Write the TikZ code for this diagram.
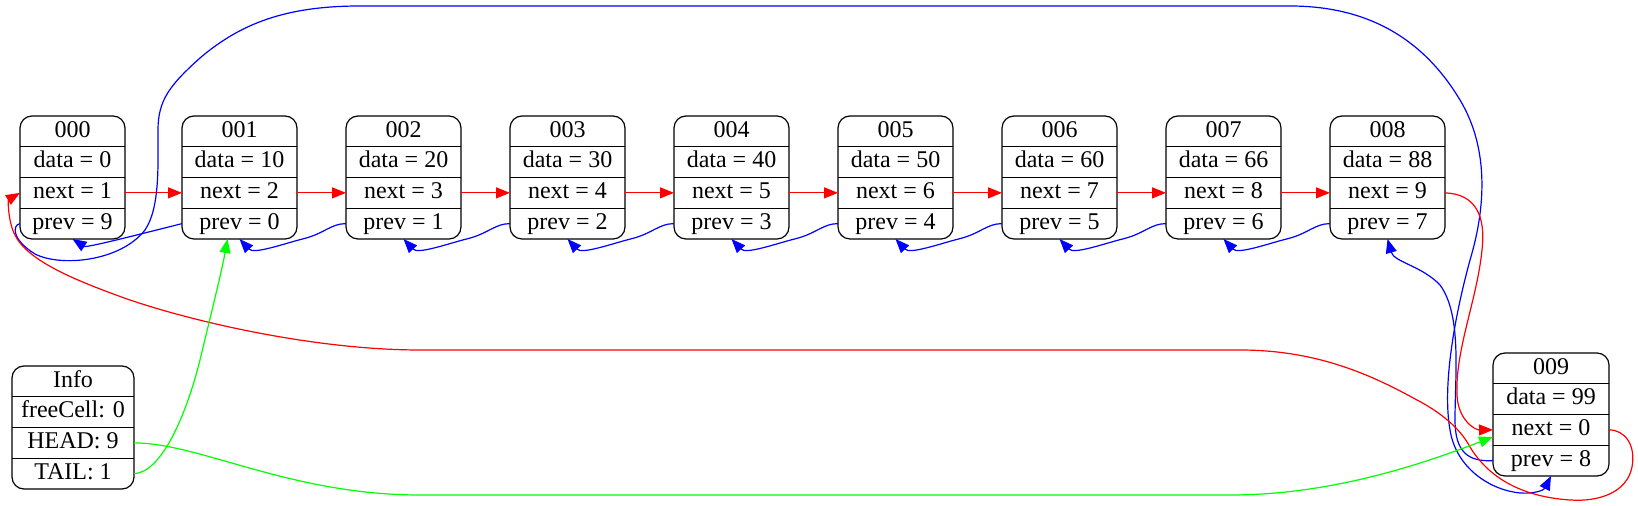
\documentclass[tikz,border=0pt]{standalone}
\usepackage{fontspec}
\setmainfont{Liberation Serif}
\usetikzlibrary{arrows.meta,calc}
\definecolor{gvred}{RGB}{255,0,0}
\definecolor{gvblue}{RGB}{0,0,255}
\definecolor{gvgreen}{RGB}{0,255,0}
\tikzset{
  frame/.style={draw=black, line width=0.6pt, rounded corners=6pt, inner sep=0pt, outer sep=0pt, minimum height=61.5pt},
  cell/.style={inner sep=0pt, outer sep=0pt, minimum height=15.375pt, text height=8.3pt, text depth=2.5pt, font=\fontsize{12}{14}\selectfont},
  rowsep/.style={draw=black, line width=0.6pt},
  edgebase/.style={line width=0.6pt, -{Triangle[length=7pt,width=5.5pt]}},
  nx/.style={edgebase, color=gvred},
  pv/.style={edgebase, color=gvblue},
  gr/.style={edgebase, color=gvgreen}
}
\newcommand{\gvrecord}[8]{%
  \node[frame, minimum width=#4*0.5pt] (#1) at (#2,#3+61.5) {};
  \node[cell, minimum width=#4*0.5pt] (#1-t) at (#2,#3+15.375) {#5};
  \node[cell, minimum width=#4*0.5pt] (#1-d) at (#2,#3+46.125) {#6};
  \node[cell, minimum width=#4*0.5pt] (#1-n) at (#2,#3+76.875) {#7};
  \node[cell, minimum width=#4*0.5pt] (#1-p) at (#2,#3+107.625) {#8};
  \draw[rowsep] (#1-d.north west) -- (#1-d.north east);
  \draw[rowsep] (#1-n.north west) -- (#1-n.north east);
  \draw[rowsep] (#1-p.north west) -- (#1-p.north east);
}
\begin{document}
\begin{tikzpicture}[x=0.5pt,y=-0.5pt]
\path[use as bounding box, fill=white] (0,0) rectangle (1638,506);

\gvrecord{n0}{72.5}{116}{105}{000}{data = 0}{next = 1}{prev = 9}
\gvrecord{n1}{239.5}{116}{115}{001}{data = 10}{next = 2}{prev = 0}
\gvrecord{n2}{403.5}{116}{115}{002}{data = 20}{next = 3}{prev = 1}
\gvrecord{n3}{567.5}{116}{115}{003}{data = 30}{next = 4}{prev = 2}
\gvrecord{n4}{731.5}{116}{115}{004}{data = 40}{next = 5}{prev = 3}
\gvrecord{n5}{895.5}{116}{115}{005}{data = 50}{next = 6}{prev = 4}
\gvrecord{n6}{1059.5}{116}{115}{006}{data = 60}{next = 7}{prev = 5}
\gvrecord{n7}{1223.5}{116}{115}{007}{data = 66}{next = 8}{prev = 6}
\gvrecord{n8}{1387.5}{116}{115}{008}{data = 88}{next = 9}{prev = 7}
\gvrecord{n9}{1551}{353}{116}{009}{data = 99}{next = 0}{prev = 8}
\gvrecord{info}{73}{366}{122}{Info}{freeCell: 0}{HEAD: 9}{TAIL: 1}

% next links
\foreach \a/\b in {n0/n1,n1/n2,n2/n3,n3/n4,n4/n5,n5/n6,n6/n7,n7/n8}
  \draw[nx] (\a-n.east) -- (\b-n.west);

% prev links
\foreach \r/\l in {n2/n1,n3/n2,n4/n3,n5/n4,n6/n5,n7/n6,n8/n7}
  \draw[pv] (\r-p.west) .. controls ($(\r-p.west)+(-15,0)$) and ($(\r-p.west)+(-22,10)$) .. ($(\r-p.west)+(-42,15)$)
     .. controls ($(\r-p.west)+(-62,20)$) and ($(\r-p.west)+(-92,31)$) .. (\l.south);
\draw[pv] (n1-p.west) .. controls ($(n1-p.west)+(-40,10)$) and ($(n0.south)+(14,9)$) .. (n0.south);

% 000.prev -> 009
\draw[pv] (n0-p.west) .. controls (12,225) and (12,240) .. (35,254)
  .. controls (60,267) and (120,262) .. (145,230)
  .. controls (160,208) and (158,165) .. (158,130)
  .. controls (158,100) and (170,85) .. (200,58)
  .. controls (240,24) and (285,6) .. (360,6) -- (1290,6)
  .. controls (1380,6) and (1430,50) .. (1460,100)
  .. controls (1490,150) and (1485,210) .. (1470,260)
  .. controls (1455,315) and (1442,385) .. (1450,430)
  .. controls (1456,468) and (1490,490) .. (1520,493)
  .. controls (1535,494) and (1544,490) .. (n9.south);

% 009.prev -> 008
\draw[pv] (n9-p.west) .. controls (1468,462) and (1455,452) .. (1455,420)
  .. controls (1455,375) and (1462,315) .. (1440,285)
  .. controls (1422,266) and (1394,262) .. (n8.south);

% 008.next -> 009
\draw[nx] (n8-n.east) .. controls (1475,194) and (1486,215) .. (1482,250)
  .. controls (1477,300) and (1455,350) .. (1457,395)
  .. controls (1458,420) and (1475,430) .. (n9-n.west);

% 009.next -> 000
\draw[nx] (n9-n.east) .. controls (1625,430) and (1636,445) .. (1632,467)
  .. controls (1627,492) and (1600,502) .. (1570,500)
  .. controls (1525,497) and (1490,480) .. (1470,447)
  .. controls (1460,428) and (1440,412) .. (1417,400)
  .. controls (1375,377) and (1320,350) .. (1240,350) -- (420,350)
  .. controls (320,350) and (200,324) .. (127,299)
  .. controls (80,282) and (28,262) .. (15,235)
  .. controls (8,222) and (8,200) .. (n0-n.west);

% Info links
\draw[gr] (info-n.east) .. controls (200,443) and (290,495) .. (420,495) -- (1230,495)
  .. controls (1330,495) and (1420,465) .. ([yshift=-3.5pt]n9-n.west);
\draw[gr] (info-p.east) .. controls (160,473) and (185,420) .. (200,360)
  .. controls (212,310) and (222,270) .. ([xshift=-6pt]n1.south);
\end{tikzpicture}
\end{document}
